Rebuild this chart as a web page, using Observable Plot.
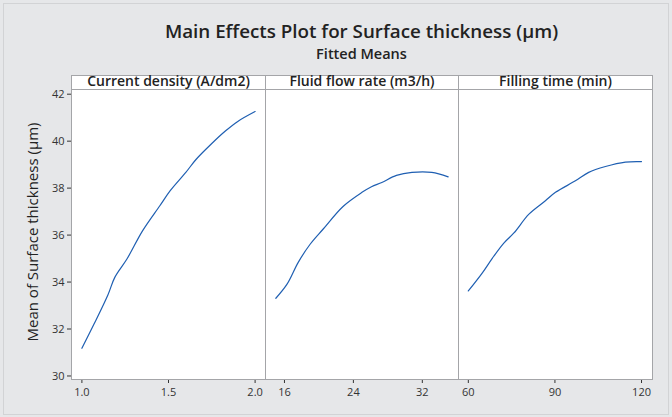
<!DOCTYPE html>
<html><head><meta charset="utf-8">
<script src="https://cdn.jsdelivr.net/npm/d3@7"></script>
<script src="https://cdn.jsdelivr.net/npm/@observablehq/plot@0.6"></script>
<style>
body{margin:0;background:#fff;}
#wrap{position:relative;width:672px;height:417px;background:#e6e7e9;overflow:hidden;font-family:"Open Sans",sans-serif;color:#222;}
#edge{position:absolute;left:3px;top:3px;right:3px;bottom:2px;border:1px solid #d2d3d5;}
.title{position:absolute;left:71px;width:581px;text-align:center;white-space:nowrap;}
#t1{top:22px;font-size:18.8px;line-height:18.8px;font-weight:600;}
#t2{top:47px;font-size:14.5px;line-height:14.5px;font-weight:600;}
.hdr{position:absolute;top:75px;height:13px;background:#fff;border:1px solid #a4a5a8;box-sizing:content-box;font-size:14px;font-weight:600;line-height:9px;text-align:center;white-space:nowrap;}
#ylab{position:absolute;left:32px;top:232px;transform:translate(-50%,-50%) rotate(-90deg);font-size:15px;white-space:nowrap;}
.panel{position:absolute;top:84px;}
</style></head>
<body><div id="wrap"><div id="edge"></div></div>
<script>
const titleText = "Main Effects Plot for Surface thickness (µm)";
const subtitleText = "Fitted Means";
const yTitle = "Mean of Surface thickness (µm)";
const panelTitles = ["Current density (A/dm2)", "Fluid flow rate (m3/h)", "Filling time (min)"];

const currentDensity = [1.0, 1.07, 1.15, 1.19, 1.26, 1.35, 1.45, 1.51, 1.6, 1.66, 1.75, 1.83, 1.9, 2.0];
const currentDensityMeans = [31.18, 32.21, 33.45, 34.2, 34.98, 36.18, 37.25, 37.89, 38.67, 39.23, 39.9, 40.44, 40.84, 41.26];

const flowRate = [15, 16.3, 17.6, 19, 20.5, 22.8, 25, 26.1, 27.3, 29, 30.8, 33.1, 35];
const flowRateMeans = [33.31, 33.91, 34.84, 35.62, 36.26, 37.22, 37.82, 38.06, 38.24, 38.54, 38.67, 38.67, 38.48];

const fillingTime = [60, 64.8, 68.3, 72.3, 75.8, 81, 86.7, 90.2, 97.1, 101.7, 107.5, 114.4, 120];
const fillingTimeMeans = [33.62, 34.38, 35.01, 35.66, 36.09, 36.89, 37.46, 37.82, 38.31, 38.67, 38.92, 39.11, 39.13];

const xTicks1 = [1.0, 1.5, 2.0];
const xTicks2 = [16, 24, 32];
const xTicks3 = [60, 90, 120];
const yTicks = [30, 32, 34, 36, 38, 40, 42];

const wrap = document.getElementById("wrap");
function addDiv(cls, id, text, style) {
  const d = document.createElement("div");
  if (cls) d.className = cls;
  if (id) d.id = id;
  d.textContent = text;
  if (style) Object.assign(d.style, style);
  wrap.appendChild(d);
  return d;
}
addDiv("title", "t1", titleText);
addDiv("title", "t2", subtitleText);
addDiv(null, "ylab", yTitle);

const panels = [
  {xs: currentDensity, ys: currentDensityMeans, ticks: xTicks1, domain: [0.94, 2.06], fmt: d3.format(".1f"), left: 0, width: 269, ml: 71, mr: 4, showY: true, hx: 71, hw: 194},
  {xs: flowRate, ys: flowRateMeans, ticks: xTicks2, domain: [13.8, 36.2], fmt: d3.format("d"), left: 255, width: 213, ml: 10, mr: 10, showY: false, hx: 265, hw: 193},
  {xs: fillingTime, ys: fillingTimeMeans, ticks: xTicks3, domain: [56.6, 123.8], fmt: d3.format("d"), left: 448, width: 214, ml: 10, mr: 10, showY: false, hx: 458, hw: 194}
];

panels.forEach((p, i) => {
  addDiv("hdr", null, panelTitles[i], {left: p.hx + "px", width: (p.hw - 1) + "px"});
  const data = p.xs.map((x, j) => ({x, y: p.ys[j]}));
  const chart = Plot.plot({
    width: p.width,
    height: 325,
    marginLeft: p.ml,
    marginRight: p.mr,
    marginTop: 5,
    marginBottom: 30,
    style: {background: "transparent", fontFamily: "Open Sans, sans-serif", fontSize: "11px", color: "#333", overflow: "visible"},
    x: {domain: p.domain, ticks: p.ticks, tickFormat: p.fmt, tickSize: 4, tickPadding: 5, label: null},
    y: {domain: [29.85, 42.2], ticks: yTicks, tickSize: 4, tickPadding: 3, label: null, axis: p.showY ? "left" : null},
    marks: [
      Plot.frame({fill: "white", stroke: "#a4a5a8"}),
      Plot.line(data, {x: "x", y: "y", stroke: "#1f5fb2", strokeWidth: 1.2, curve: "catmull-rom"})
    ]
  });
  chart.classList.add("panel");
  chart.style.left = p.left + "px";
  wrap.appendChild(chart);
});
</script>
</body></html>
